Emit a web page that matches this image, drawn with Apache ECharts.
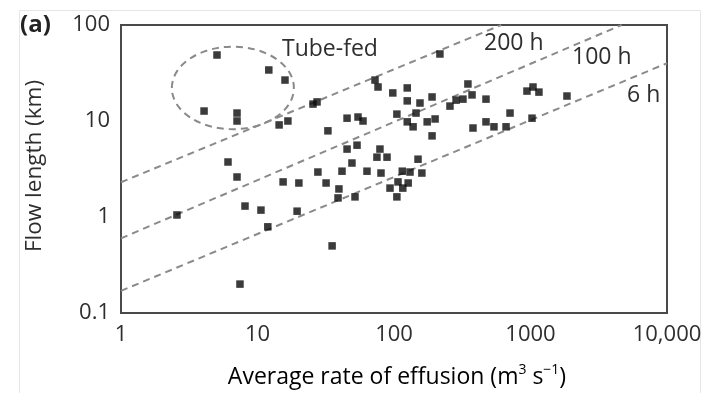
<!DOCTYPE html>
<html><head><meta charset="utf-8">
<script src="https://cdn.jsdelivr.net/npm/echarts@6/dist/echarts.min.js"></script>
<style>html,body{margin:0;padding:0;background:#fff}#c{width:715px;height:393px}</style>
</head><body><div id="c"></div>
<script>
// Average rate of effusion (m3/s) and flow length (km) for each flow
const effusionRate = [5.05,12.1,15.9,4.06,7.08,7.08,14.4,16.7,25.5,27.3,
  72.6,76.4,98,125,125,155,145,105,125,138,175,200,45.3,54.5,59.3,32.8,
  217,348,190,373,320,285,257,472,942,1043,1153,1850,708,1026,190,379,472,540,662,
  6.08,7.08,2.57,8.1,10.6,11.9,15.4,20.1,19.5,7.44,
  45.3,53.6,78.9,75,88.9,150,49.2,27.7,41.6,63.4,80.3,115,131,160,
  31.8,39.5,38.9,51.8,93.5,107,127,105,116,35.2];
const flowLength = [48.7,34.0,26.7,12.7,12.1,10.0,9.1,10.0,15.0,15.8,
  26.7,22.6,19.6,22.1,16.2,15.4,12.1,11.8,9.8,8.7,9.8,10.5,10.7,11.0,10.0,7.9,
  49.9,24.3,17.8,18.7,16.9,16.5,14.3,16.9,20.5,22.6,20.0,18.2,12.1,10.7,7.0,8.45,9.8,8.7,8.7,
  3.74,2.61,1.05,1.30,1.18,0.79,2.32,2.26,1.15,0.20,
  5.1,5.6,5.1,4.2,4.2,4.0,3.65,2.94,3.0,3.0,2.87,3.0,2.94,2.87,
  2.26,1.96,1.58,1.62,2.0,2.32,2.26,1.62,2.0,0.5];
// constant-duration reference lines (endpoints)
const line200h = [[1, 2.3], [610, 100]];
const line100h = [[1, 0.6], [4650, 100]];
const line6h = [[1, 0.17], [10000, 40]];
// tube-fed outline: centre and radii in decades
const tubeFed = {q: 6.6, l: 22.1, rq: 0.447, rl: 0.43};
const xTicks = [1, 10, 100, 1000, 10000];
const xTickLabels = ['1', '10', '100', '1000', '10,000'];
const yTicks = [0.1, 1, 10, 100];
const yTickLabels = ['0.1', '1', '10', '100'];

const FONT = 'Open Sans';
const points = effusionRate.map((q, i) => [q, flowLength[i]]);
function nearestLabel(v, ticks, labels) {
  let best = 0;
  ticks.forEach((t, i) => { if (Math.abs(Math.log10(t) - Math.log10(v)) < Math.abs(Math.log10(ticks[best]) - Math.log10(v))) best = i; });
  return labels[best];
}
const dashLine = (d) => ({
  type: 'line', data: d, symbol: 'none', silent: true, clip: true, z: 1,
  lineStyle: {color: '#8a8a8a', width: 2, type: [7, 5]}
});
const chart = echarts.init(document.getElementById('c'), null, {renderer: 'canvas'});
chart.setOption({
  animation: false,
  backgroundColor: '#fff',
  grid: {left: 121, right: 48, top: 25, bottom: 80, show: true, borderColor: '#4a4a4a', borderWidth: 2, backgroundColor: 'transparent'},
  xAxis: {
    type: 'log', logBase: 10, min: 1, max: 10000,
    axisLine: {show: false}, axisTick: {show: false}, splitLine: {show: false},
    axisLabel: {fontFamily: FONT, fontSize: 22, color: '#2e2e2e', margin: 11,
      formatter: v => nearestLabel(v, xTicks, xTickLabels)}
  },
  yAxis: {
    type: 'log', logBase: 10, min: 0.1, max: 100,
    axisLine: {show: false}, axisTick: {show: false}, splitLine: {show: false},
    axisLabel: {fontFamily: FONT, fontSize: 22, color: '#2e2e2e', margin: 11,
      formatter: v => nearestLabel(v, yTicks, yTickLabels)}
  },
  series: [
    dashLine(line200h), dashLine(line100h), dashLine(line6h),
    {
      type: 'custom', silent: true, clip: false, z: 1,
      data: [[tubeFed.q, tubeFed.l]],
      renderItem: (params, api) => {
        const c = api.coord([tubeFed.q, tubeFed.l]);
        const ex = api.coord([tubeFed.q * Math.pow(10, tubeFed.rq), tubeFed.l]);
        const ey = api.coord([tubeFed.q, tubeFed.l * Math.pow(10, tubeFed.rl)]);
        return {type: 'ellipse', shape: {cx: c[0], cy: c[1], rx: ex[0] - c[0], ry: c[1] - ey[1]},
          style: {fill: null, stroke: '#8a8a8a', lineWidth: 2, lineDash: [7, 5]}};
      }
    },
    {
      type: 'scatter', data: points, symbol: 'rect', symbolSize: 7.5, z: 3,
      itemStyle: {color: '#0a0a0a'}
    }
  ],
  graphic: [
    {type: 'rect', left: 17, top: 8, shape: {width: 681, height: 400}, style: {fill: null, stroke: '#e6e6e6', lineWidth: 1}, z: -10},
    {type: 'text', left: 20, top: 13, style: {text: '(a)', font: 'bold 24px "Open Sans"', fill: '#222'}},
    {type: 'text', left: 282, top: 38, style: {text: 'Tube-fed', font: '23px "Open Sans"', fill: '#2e2e2e'}},
    {type: 'text', left: 484, top: 32, style: {text: '200 h', font: '23px "Open Sans"', fill: '#2e2e2e'}},
    {type: 'text', left: 572, top: 46, style: {text: '100 h', font: '23px "Open Sans"', fill: '#2e2e2e'}},
    {type: 'text', left: 627, top: 84, style: {text: '6 h', font: '23px "Open Sans"', fill: '#2e2e2e'}},
    {type: 'text', x: 35, y: 166, rotation: Math.PI / 2,
      style: {text: 'Flow length (km)', font: '22.5px "Open Sans"', fill: '#2e2e2e', align: 'center', verticalAlign: 'middle'}},
    {type: 'text', x: 397, y: 377,
      style: {text: '{n|Average rate of effusion (m}{s|3}{n| s}{s|\u22121}{n|)}', align: 'center', verticalAlign: 'middle',
        rich: {n: {fontFamily: FONT, fontSize: 23, lineHeight: 28, color: '#2e2e2e'},
               s: {fontFamily: FONT, fontSize: 14, lineHeight: 28, verticalAlign: 'top', color: '#2e2e2e'}}}}
  ]
});
</script></body></html>
